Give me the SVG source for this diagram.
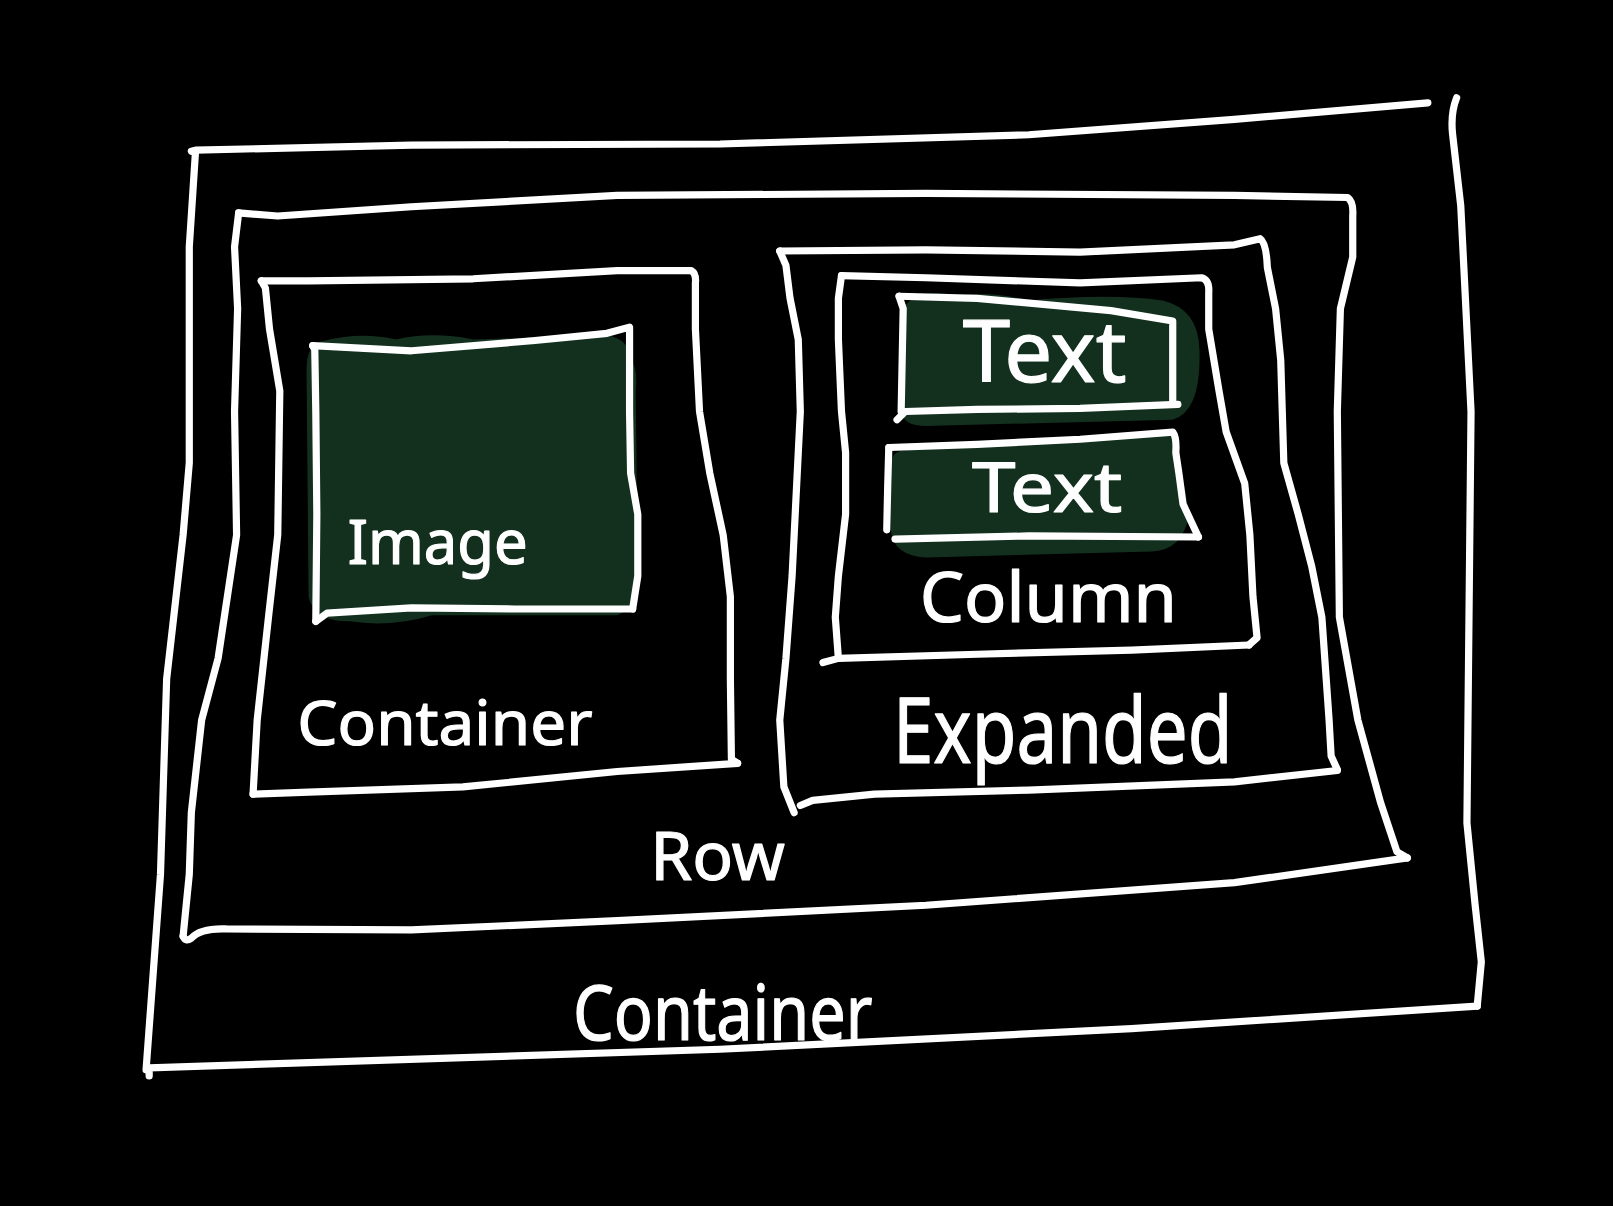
<svg xmlns="http://www.w3.org/2000/svg" width="1613" height="1206" viewBox="0 0 1613 1206">
  <defs>
    <style>
      .ink { fill: none; stroke: #ffffff; stroke-width: 7; stroke-linecap: round; stroke-linejoin: round; }
      .wash { fill: #13301f; stroke: none; }
      .label { fill: #ffffff; stroke: #ffffff; stroke-width: 1.2; stroke-linejoin: round; font-family: "Noto Sans", "DejaVu Sans", sans-serif; text-anchor: start; }
    </style>
  </defs>
  <rect x="0" y="0" width="1613" height="1206" fill="#000000"/>

  <!-- hand-sketched layout tree, drawn on a 1568-wide grid -->
  <g transform="scale(1.0287)">

    <!-- outermost Container -->
    <g id="outer-container">
      <path class="ink" d="M186 147 L190 146 L400 141 L700 140 L1000 131 L1200 116 L1388 100"/>
      <path class="ink" d="M1416 95 Q1410 110 1412 130 L1420 200 L1430 400 L1426 800 L1434 880 L1440 935 L1436 978"/>
      <path class="ink" d="M1436 978 L1100 1000 L700 1020 L300 1033 L145 1038 L145 1046"/>
      <path class="ink" d="M190 148 L184 240 L184 450 L178 520 L162 660 L156 850 L142 1040"/>
      <text class="label" x="557" y="1011" font-size="74" textLength="291" lengthAdjust="spacingAndGlyphs">Container</text>
    </g>

    <!-- Row -->
    <g id="row">
      <path class="ink" d="M232 207 L270 210 L400 201 L600 190 L900 188 L1200 190 L1310 192 Q1316 196 1315 210 L1315 250 L1303 300 L1300 400 L1302 600 L1320 700 L1342 780 L1358 828 L1368 834"/>
      <path class="ink" d="M1368 834 L1200 858 L900 880 L600 895 L400 904 L220 903 Q195 902 186 912 Q180 916 178 910"/>
      <path class="ink" d="M178 910 L184 850 L186 790 L196 700 L212 640 L230 520 L228 400 L231 300 L228 240 L232 207"/>
      <text class="label" x="632" y="855" font-size="66" textLength="131" lengthAdjust="spacingAndGlyphs">Row</text>
    </g>

    <!-- Container holding the image -->
    <g id="image-container">
      <path class="ink" d="M254 273 L300 273 L460 271 L600 263 L672 263 Q677 266 676 275 L676 320 L680 400 L690 460 L703 520 L710 580 L710 660 L711 738 L717 742"/>
      <path class="ink" d="M717 742 L600 750 L450 765 L300 770 L246 772"/>
      <path class="ink" d="M246 772 L250 700 L261 600 L270 520 L272 380 L262 320 L258 280 L254 273"/>
      <text class="label" x="289" y="724" font-size="60" textLength="287" lengthAdjust="spacingAndGlyphs">Container</text>
    </g>

    <!-- Image -->
    <g id="image">
      <path class="wash" d="M312 332 Q350 322 385 330 Q420 322 460 330 L590 326 Q612 330 614 350 Q620 360 618 380 L620 560 Q622 590 600 598 L420 598 Q380 610 340 604 Q305 604 300 580 L298 360 Q298 335 312 332 Z"/>
      <path class="ink" d="M304 336 L400 341 L520 331 L590 324 L612 318 L612 400 L613 460 L620 500 L620 560 L615 592"/>
      <path class="ink" d="M615 592 L500 592 L400 591 L318 596 L307 604"/>
      <path class="ink" d="M307 604 L308 500 L307 400 L306 340 L304 336"/>
      <text class="label" x="338" y="548" font-size="60" textLength="175" lengthAdjust="spacingAndGlyphs">Image</text>
    </g>

    <!-- Expanded -->
    <g id="expanded">
      <path class="ink" d="M758 244 L900 243 L1050 245 L1200 238 L1225 232 Q1231 236 1232 260 L1240 300 L1245 350 L1248 450 L1262 500 L1275 550 L1285 600 L1292 700 L1294 735 L1300 748"/>
      <path class="ink" d="M1300 749 L1200 760 L1000 768 L850 772 L790 778 L778 783"/>
      <path class="ink" d="M772 790 L762 765 L758 700 L764 640 L770 560 L772 520 L775 460 L778 400 L776 330 L768 290 L764 258 L758 244"/>
      <text class="label" x="868" y="742" font-size="88" textLength="330" lengthAdjust="spacingAndGlyphs">Expanded</text>
    </g>

    <!-- Column -->
    <g id="column">
      <path class="ink" d="M818 268 L900 270 L1050 275 L1168 270 Q1176 272 1175 285 L1175 320 L1185 380 L1192 420 L1210 470 L1215 520 L1218 580 L1222 620 L1214 627"/>
      <path class="ink" d="M1214 627 L1100 632 L950 636 L815 640 L800 644"/>
      <path class="ink" d="M815 640 L812 600 L815 560 L822 500 L822 440 L818 400 L815 330 L815 290 L818 268"/>
      <text class="label" x="894" y="605" font-size="68" textLength="250" lengthAdjust="spacingAndGlyphs">Column</text>
    </g>

    <!-- first Text -->
    <g id="text-1">
      <path class="wash" d="M885 292 Q905 280 930 288 Q960 282 1000 292 Q1080 285 1130 292 Q1165 300 1166 340 Q1168 400 1140 408 L900 414 Q878 414 876 400 L876 300 Z"/>
      <path class="ink" d="M874 288 L950 290 L1080 302 L1140 312 L1140 390"/>
      <path class="ink" d="M1145 393 L1050 397 L950 398 L880 400 L872 408"/>
      <path class="ink" d="M876 400 L878 300 L874 288"/>
      <text class="label" x="936" y="371" font-size="84" textLength="159" lengthAdjust="spacingAndGlyphs">Text</text>
    </g>

    <!-- second Text -->
    <g id="text-2">
      <path class="wash" d="M880 438 Q950 428 1050 425 Q1100 418 1140 424 Q1150 460 1156 500 Q1150 535 1120 536 L900 542 Q868 540 866 515 L866 450 Q868 438 880 438 Z"/>
      <path class="ink" d="M864 435 L950 432 L1050 427 L1140 420 Q1144 425 1143 440 L1146 460 L1150 490 L1165 522"/>
      <path class="ink" d="M1165 522 L1000 521 L870 524"/>
      <path class="ink" d="M862 515 L863 470 L864 435"/>
      <text class="label" x="945" y="498" font-size="68" textLength="146" lengthAdjust="spacingAndGlyphs">Text</text>
    </g>

  </g>
</svg>
